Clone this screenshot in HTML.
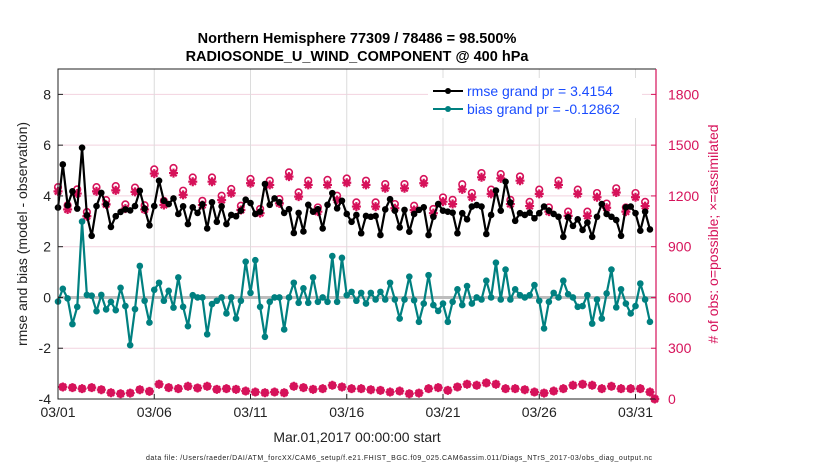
<!DOCTYPE html>
<html><head><meta charset="utf-8">
<style>
html,body{margin:0;padding:0;background:#fff;}
svg{display:block;font-family:"Liberation Sans",Arial,sans-serif;}
</style></head>
<body>
<svg id="chart" width="830" height="470" viewBox="0 0 830 470" xmlns="http://www.w3.org/2000/svg">
<rect width="830" height="470" fill="#fff"/>
<g id="grid"></g>
<g id="marks"></g>
<g id="axes"></g>
<text x="357" y="43" text-anchor="middle" font-size="14.5" font-weight="bold">Northern Hemisphere 77309 / 78486 = 98.500%</text>
<text x="357" y="61" text-anchor="middle" font-size="14.5" font-weight="bold">RADIOSONDE_U_WIND_COMPONENT @ 400 hPa</text>
<text transform="translate(27,234) rotate(-90)" text-anchor="middle" font-size="14" fill="#222">rmse and bias (model - observation)</text>
<text transform="translate(718,234) rotate(-90)" text-anchor="middle" font-size="14" fill="#d6125a"># of obs: o=possible; ×=assimilated</text>
<text x="357" y="442" text-anchor="middle" font-size="14" fill="#222">Mar.01,2017 00:00:00 start</text>
<text x="399" y="460" text-anchor="middle" font-size="7" fill="#222" textLength="506">data file: /Users/raeder/DAI/ATM_forcXX/CAM6_setup/f.e21.FHIST_BGC.f09_025.CAM6assim.011/Diags_NTrS_2017-03/obs_diag_output.nc</text>
<g>
  <rect x="428" y="78" width="214" height="40" fill="#fff"/>
  <line x1="433" y1="91" x2="463" y2="91" stroke="#000" stroke-width="2"/>
  <circle cx="448" cy="91" r="3" fill="#000"/>
  <text x="467" y="96" font-size="14" fill="#1a4cff">rmse grand pr = 3.4154</text>
  <line x1="433" y1="109" x2="463" y2="109" stroke="#008080" stroke-width="2"/>
  <circle cx="448" cy="109" r="3" fill="#008080"/>
  <text x="467" y="114" font-size="14" fill="#1a4cff">bias grand pr = -0.12862</text>
</g>
</svg>
<script>
const rmse = [3.54,5.24,3.63,4.18,3.5,5.9,3.24,2.43,3.6,4.12,3.67,2.78,3.2,3.37,3.47,3.43,3.6,4.2,3.5,2.84,3.6,
4.6,3.81,3.68,3.9,3.29,3.59,2.89,3.55,3.33,3.67,2.72,3.75,2.98,3.59,2.89,3.25,3.2,3.42,3.85,3.72,3.29,3.38,4.47,3.65,3.9,3.75,3.33,3.48,2.54,3.33,2.6,3.65,3.38,3.48,2.72,3.65,4.11,3.51,3.81,3.29,
2.98,3.25,2.53,3.21,3.18,3.21,2.46,3.47,3.87,3.42,2.76,3.45,2.59,3.29,3.45,3.55,2.46,3.18,3.68,3.42,3.38,3.34,2.53,3.32,3.08,3.58,3.64,3.58,2.5,3.25,4.21,3.42,4.56,3.74,3.02,3.32,3.25,3.34,3.12,3.32,3.58,3.42,3.29,3.18,2.39,3.16,2.82,3.08,2.66,2.95,2.39,3.18,3.68,3.29,3.18,3.05,2.43,3.55,3.58,3.32,2.63,3.38,2.68];
const bias = [-0.16,0.34,-0.04,-1.05,-0.37,2.99,0.1,0.07,-0.54,0.1,-0.47,-0.17,-0.5,0.38,-0.34,-1.88,-0.46,1.24,-0.13,-0.99,0.3,
0.58,-0.13,0.26,-0.4,0.79,-0.37,-1.13,0.09,0,0,-1.45,-0.26,-0.13,0,-0.63,0,-0.83,-0.13,1.41,0.18,1.47,-0.37,-1.55,-0.17,0,0,-1.26,0,0.58,-0.21,0.36,-0.21,0.79,-0.17,0,-0.17,1.63,-0.17,1.56,0.09,
0.22,-0.13,0.18,-0.24,0.18,-0.08,0.22,-0.08,0.58,-0.08,-0.83,-0.08,0.82,-0.11,-0.96,-0.24,0.88,-0.3,-0.53,-0.24,-0.96,-0.17,0.32,-0.3,0.45,-0.24,0,-0.08,0.66,0,1.37,-0.08,1.1,-0.08,0.32,0.09,0,0.09,0.49,-0.13,-1.22,-0.17,0.18,0,0.66,0.13,0,-0.37,-0.34,0.09,-1.03,-0.08,-0.83,0.16,1.1,-0.39,0.32,-0.24,-0.63,-0.34,0.55,-0.08,-0.96];
const assimilated = [1227,71,1120,67,1214,61,1080,67,1227,55,1150,37,1233,31,1125,35,1224,55,1120,45,1332,87,1146,67,1335,61,1206,75,1284,65,1146,75,1284,57,1176,61,1216,57,1117,47,1275,41,1098,37,1265,41,1156,37,1314,75,1196,67,1265,57,1107,61,1265,81,1176,71,1278,61,1137,61,1265,55,1137,51,1245,41,1127,47,1245,31,1117,35,1275,61,1098,67,1166,51,1152,71,1239,87,1192,81,1310,95,1212,87,1304,61,1152,61,1290,55,1140,41,1212,35,1107,47,1265,61,1082,81,1212,87,1082,81,1192,61,1130,75,1220,61,1107,61,1192,61,1140,41,0];
const possible = [1252,71,1145,67,1239,61,1105,67,1252,55,1175,37,1258,31,1150,35,1249,55,1145,45,1357,87,1171,67,1365,61,1231,75,1309,65,1171,75,1309,57,1201,61,1241,57,1142,47,1300,41,1123,37,1290,41,1181,37,1339,75,1221,67,1290,57,1132,61,1295,81,1201,71,1303,61,1162,61,1290,55,1162,51,1270,41,1152,47,1270,31,1142,35,1300,61,1123,67,1191,51,1177,71,1269,87,1217,81,1335,95,1237,87,1329,61,1177,61,1315,55,1165,41,1237,35,1132,47,1290,61,1107,81,1237,87,1107,81,1217,61,1155,75,1245,61,1132,61,1217,61,1165,41,0];
const leftTicks = [-4,-2,0,2,4,6,8];
const rightTicks = [0,300,600,900,1200,1500,1800];
const xTickLabels = ["03/01","03/06","03/11","03/16","03/21","03/26","03/31"];
const xTickDays = [0,5,10,15,20,25,30];
const stepDays = 0.25;

const NS = "http://www.w3.org/2000/svg";
const L = 58, R = 656, T = 69, B = 399;
const yMin = -4, yMax = 9, dayMax = (R - L) / 19.25;
const xs = d => L + d / dayMax * (R - L);
const ys = v => B - (v - yMin) / (yMax - yMin) * (B - T);
const yc = c => ys(c / 150 - 4);
const PINK = "#d6125a", TEAL = "#008080";
function mk(tag, attrs, parent) {
  const e = document.createElementNS(NS, tag);
  for (const k in attrs) e.setAttribute(k, attrs[k]);
  parent.appendChild(e);
  return e;
}
const grid = document.getElementById("grid");
const marks = document.getElementById("marks");
const axes = document.getElementById("axes");

rightTicks.forEach(c => {
  const y = yc(c);
  if (c > 0) {
    const g = mk("line", {x1: L, x2: R, y1: y, y2: y, stroke: "#f2d3df", "stroke-width": 1}, grid);
    
    
  }
  const t = mk("text", {x: 668, y: y + 5, "font-size": 14, fill: PINK}, axes);
  t.textContent = c;
  
  
  mk("line", {x1: R - 5, x2: R, y1: y, y2: y, stroke: PINK, "stroke-width": 1}, axes);
});
xTickDays.forEach((d, i) => {
  const x = xs(d);
  if (d > 0) {
    const g = mk("line", {x1: x, x2: x, y1: T, y2: B, stroke: "#dcdcdc", "stroke-width": 1}, grid);
    
    
  }
  const t = mk("text", {x: x, y: 417, "font-size": 14, "text-anchor": "middle", fill: "#222"}, axes);
  t.textContent = xTickLabels[i];
  
  
  mk("line", {x1: x, x2: x, y1: B - 5, y2: B, stroke: "#222"}, axes);
});
leftTicks.forEach(v => {
  const y = ys(v);
  const t = mk("text", {x: 51, y: y + 5, "font-size": 14, "text-anchor": "end", fill: "#222"}, axes);
  t.textContent = v;
  
  
  mk("line", {x1: L, x2: L + 5, y1: y, y2: y, stroke: "#222"}, axes);
});
const zl = mk("line", {x1: L, x2: R, y1: ys(0), y2: ys(0), stroke: "#bdbdbd", "stroke-width": 3}, grid);



const frame = mk("path", {d: `M${R},${T} L${L},${T} L${L},${B} L${R},${B}`, fill: "none", stroke: "#222", "stroke-width": 1}, axes);


const ra = mk("line", {x1: R, x2: R, y1: T, y2: B, stroke: PINK, "stroke-width": 1.2}, axes);



// counts
assimilated.forEach((c, i) => {
  const x = xs(i * stepDays);
  const yo = yc(possible[i]);
  const o = mk("circle", {cx: x, cy: yo, r: 3.3, fill: "#fff", stroke: PINK, "stroke-width": 1.6}, marks);
  
  
  const y = yc(c);
  const g = mk("path", {d: `M${x-4.5},${y} h9 M${x},${y-4.5} v9 M${x-3.2},${y-3.2} l6.4,6.4 M${x-3.2},${y+3.2} l6.4,-6.4`, stroke: PINK, "stroke-width": 2.2, fill: "none"}, marks);
  
  
  const d = mk("circle", {cx: x, cy: y, r: 2.6, fill: PINK}, marks);
  
  
});

function series(vals, color, name) {
  const pts = vals.map((v, i) => [xs(i * stepDays), ys(v)]);
  const p = mk("polyline", {points: pts.map(p => p.join(",")).join(" "), fill: "none", stroke: color, "stroke-width": 2.2, "stroke-linejoin": "round"}, marks);
  
  
  pts.forEach(q => {
    const c = mk("circle", {cx: q[0], cy: q[1], r: 3.3, fill: color}, marks);
    
    
  });
}
series(bias, TEAL, "bias");
series(rmse, "#000", "rmse");
</script>
</body></html>
